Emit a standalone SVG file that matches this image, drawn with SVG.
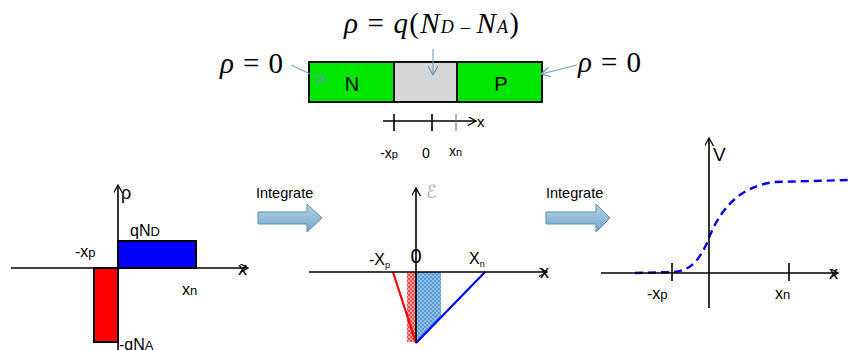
<svg xmlns="http://www.w3.org/2000/svg" width="848" height="350" viewBox="0 0 848 350">
<style>
.sans{font-family:"Liberation Sans",Arial,sans-serif;fill:#000}
.serif{font-family:"Liberation Serif","Times New Roman",serif;fill:#000}
.it{font-style:italic}
.ax{stroke:#000;stroke-width:1.6;fill:none}
.call{stroke:#6a9ab8;stroke-width:1;fill:none}
.blk{fill:url(#blueg);stroke:#5d8fac;stroke-width:1}
</style>
<defs>
<marker id="ah" viewBox="0 0 10 10" refX="9" refY="5" markerWidth="9" markerHeight="9" markerUnits="userSpaceOnUse" orient="auto">
<path d="M0,0 L9,5 L0,10" fill="none" stroke="#000" stroke-width="1.4"/>
</marker>
<marker id="ca" viewBox="0 0 10 10" refX="9" refY="5" markerWidth="10" markerHeight="10" markerUnits="userSpaceOnUse" orient="auto">
<path d="M0,0 L9,5 L0,10" fill="none" stroke="#6a9ab8" stroke-width="1.2"/>
</marker>
<linearGradient id="blueg" x1="0" y1="0" x2="0" y2="1">
<stop offset="0" stop-color="#b6d6e8"/>
<stop offset="1" stop-color="#6fa6c6"/>
</linearGradient>
<pattern id="pb" width="4" height="4" patternUnits="userSpaceOnUse">
<rect width="4" height="4" fill="#5a9bd5"/>
<path d="M0,0 h2 v2 h-2z M2,2 h2 v2 h-2z" fill="#8ebde6"/>
</pattern>
<pattern id="pr" width="4" height="4" patternUnits="userSpaceOnUse">
<rect width="4" height="4" fill="#f24b4b"/>
<path d="M0,0 h2 v2 h-2z M2,2 h2 v2 h-2z" fill="#f9a0a0"/>
</pattern>
</defs>

<!-- Top device -->
<g id="formula-top">
<text class="serif" x="344" y="33" font-size="29" textLength="175"><tspan class="it">ρ</tspan> = <tspan class="it">q</tspan>(<tspan class="it">N</tspan><tspan class="it" font-size="18">D</tspan><tspan font-size="18"> – </tspan><tspan class="it">N</tspan><tspan class="it" font-size="18">A</tspan>)</text>
</g>
<g id="rho-left"><text class="serif" x="220" y="73" font-size="29" textLength="63"><tspan class="it">ρ</tspan> = 0</text></g>
<g id="rho-right"><text class="serif" x="578" y="72" font-size="29" textLength="63"><tspan class="it">ρ</tspan> = 0</text></g>
<g id="device">
<rect x="309" y="62" width="85" height="40" fill="#00e600" stroke="#111" stroke-width="2"/>
<rect x="394" y="62" width="63" height="40" fill="#d6d6d6" stroke="#111" stroke-width="2"/>
<rect x="457" y="62" width="85" height="40" fill="#00e600" stroke="#111" stroke-width="2"/>
<text class="sans" x="352" y="91" font-size="20" text-anchor="middle">N</text>
<text class="sans" x="501" y="91" font-size="20" text-anchor="middle">P</text>
</g>
<g id="axis-top">
<line class="ax" x1="383" y1="121" x2="476" y2="121" stroke-width="1.2" marker-end="url(#ah)"/>
<line class="ax" x1="394" y1="114" x2="394" y2="131" stroke-width="1.4"/>
<line class="ax" x1="432" y1="114" x2="432" y2="131" stroke-width="1.4"/>
<line x1="456" y1="114" x2="456" y2="131" stroke="#666" stroke-width="1"/>
<text class="sans" x="477" y="127" font-size="15">x</text>
<text class="sans" x="380" y="158" font-size="14">-x<tspan font-size="11">p</tspan></text>
<text class="sans" x="426" y="158" font-size="14" text-anchor="middle">0</text>
<text class="sans" x="449" y="156" font-size="14">x<tspan font-size="11">n</tspan></text>
</g>

<!-- Left: charge density -->
<g id="plot-rho">
<rect x="118" y="241" width="78" height="27" fill="#0000ff" stroke="#000" stroke-width="2"/>
<rect x="94" y="268" width="24" height="74" fill="#ff0000" stroke="#000" stroke-width="2"/>
<line class="ax" x1="11" y1="268" x2="248" y2="268" marker-end="url(#ah)"/>
<line class="ax" x1="118" y1="350" x2="118" y2="185" marker-end="url(#ah)"/>
<text class="sans" x="121" y="199" font-size="18">ρ</text>
<text class="sans" x="238" y="275" font-size="18">x</text>
<text class="sans" x="130" y="236" font-size="16">qN<tspan font-size="13">D</tspan></text>
<text class="sans" x="75" y="257" font-size="16">-x<tspan font-size="13">p</tspan></text>
<text class="sans" x="182" y="295" font-size="16">x<tspan font-size="13">n</tspan></text>
<text class="sans" x="119" y="350" font-size="16">-qN<tspan font-size="13">A</tspan></text>
</g>

<!-- Integrate arrows -->
<g id="integrate-1">
<text class="sans" x="256" y="198" font-size="14.5">Integrate</text>
<path class="blk" d="M258,212 L307,212 L307,204 L322,218 L307,232 L307,224 L258,224 Z"/>
</g>
<g id="integrate-2">
<text class="sans" x="546" y="198" font-size="14.5">Integrate</text>
<path class="blk" d="M546,212 L596,212 L596,204 L610,218 L596,232 L596,224 L546,224 Z"/>
</g>

<!-- Middle: electric field -->
<g id="plot-field">
<rect x="407" y="272" width="9" height="70" fill="url(#pr)"/>
<polygon points="416,272 441,272 441,317 416,342" fill="url(#pb)"/>
<line x1="393" y1="272" x2="416" y2="343" stroke="#ff0000" stroke-width="2.2"/>
<line x1="416" y1="343" x2="485" y2="272" stroke="#0000ff" stroke-width="2.2"/>
<line class="ax" x1="309" y1="272" x2="547" y2="272" marker-end="url(#ah)"/>
<line class="ax" x1="416" y1="343" x2="416" y2="188" marker-end="url(#ah)"/>
<text x="426" y="198" font-family="'DejaVu Serif','DejaVu Sans',serif" font-style="italic" font-size="18" fill="#aaa">ℰ</text>
<text class="sans" x="540" y="278" font-size="18">x</text>
<text class="sans" x="416" y="263" font-size="20" text-anchor="middle">0</text>
<text class="sans" x="369" y="265" font-size="16">-X<tspan font-size="9" dy="3">p</tspan></text>
<text class="sans" x="469" y="264" font-size="16">X<tspan font-size="9" dy="3">n</tspan></text>
</g>

<!-- Right: potential -->
<g id="plot-potential">
<path d="M635,273 L672,272 C690,271 698,262 707,243 C718,212 738,186 775,182 L848,180" fill="none" stroke="#0000ee" stroke-width="2.4" stroke-dasharray="8,5"/>
<line class="ax" x1="601" y1="273" x2="838" y2="273" marker-end="url(#ah)"/>
<line class="ax" x1="709" y1="308" x2="709" y2="138" marker-end="url(#ah)"/>
<line class="ax" x1="672" y1="263" x2="672" y2="281"/>
<line class="ax" x1="789" y1="263" x2="789" y2="281"/>
<text class="sans" x="713" y="161" font-size="19">V</text>
<text class="sans" x="829" y="279" font-size="18">x</text>
<text class="sans" x="647" y="299" font-size="16">-x<tspan font-size="13">p</tspan></text>
<text class="sans" x="775" y="299" font-size="16">x<tspan font-size="13">n</tspan></text>
</g>

<!-- Callout connectors -->
<g id="connectors">
<line class="call" x1="291" y1="65" x2="325" y2="81" marker-end="url(#ca)"/>
<line class="call" x1="433" y1="49" x2="433" y2="75" marker-end="url(#ca)"/>
<line class="call" x1="577" y1="65" x2="541" y2="74" marker-end="url(#ca)"/>
</g>
</svg>
